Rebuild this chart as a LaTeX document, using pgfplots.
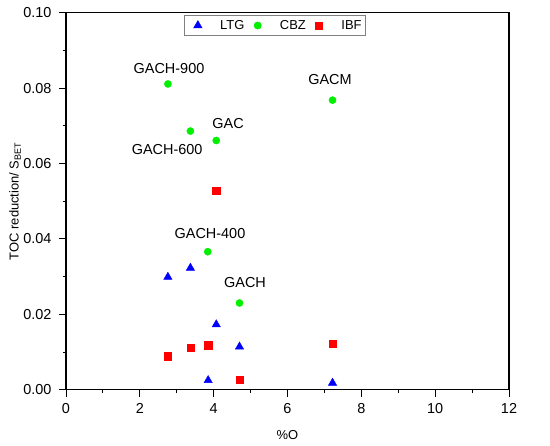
\documentclass[border=0pt]{standalone}
\usepackage{pgfplots}
\pgfplotsset{compat=1.18}
\usepackage{fontspec}
\setmainfont{Liberation Sans}
\definecolor{ltg}{RGB}{0,0,255}
\definecolor{cbz}{RGB}{0,240,0}
\definecolor{ibf}{RGB}{255,0,0}
\pgfplotsset{my marks/.style={only marks,
  legend image code/.code={\path (-11bp,0) (8bp,0); \draw[##1, only marks] plot coordinates {(0bp,0bp)};}}}
\begin{document}
\begin{tikzpicture}
\path[use as bounding box] (-66bp,-56.3bp) rectangle (484bp,389.7bp);
\begin{axis}[
  scale only axis,
  width=443bp, height=377bp,
  xmin=0, xmax=12, ymin=0, ymax=0.10,
  xtick={0,2,...,12},
  ytick={0,0.02,0.04,0.06,0.08,0.10},
  minor x tick num=1, minor y tick num=1,
  tick align=outside,
  xtick pos=left, ytick pos=left,
  major tick length=7bp, minor tick length=3.5bp,
  axis line style={line width=1.1pt},
  every tick/.style={black, line width=1pt},
  /pgf/number format/assume math mode=true,
  tick label style={font=\fontsize{14.5}{17}\selectfont},
  xticklabel style={yshift=-3bp},
  yticklabel style={xshift=-4bp, /pgf/number format/.cd, fixed, fixed zerofill, precision=2},
  scaled y ticks=false,
  xlabel={\%O},
  ylabel={TOC reduction/ S\textsubscript{BET}},
  label style={font=\fontsize{13}{15}\selectfont},
  xlabel style={at={(axis description cs:0.5,0)}, anchor=center, yshift=-45.3bp},
  ylabel style={at={(axis description cs:0,0.5)}, anchor=center, rotate=0, yshift=51bp},
  legend columns=-1,
  legend style={at={(rel axis cs:0.472,0.994)}, anchor=north,
    draw=gray, line width=0.6pt, font=\fontsize{13}{15}\selectfont,
    inner xsep=2bp, inner ysep=3bp,
    /tikz/every odd column/.append style={column sep=12bp},
    /tikz/every even column/.append style={column sep=0bp}},
]
\addplot[my marks, mark=triangle*, mark size=4.8pt, color=ltg, mark options={draw=ltg, fill=ltg}]
coordinates {(2.76,0.0299) (3.37,0.0323) (4.07,0.0173) (4.70,0.0114) (3.85,0.0025) (7.22,0.0018)};
\addlegendentry{LTG}
\addplot[my marks, mark=*, mark size=3.6pt, color=cbz, mark options={draw=cbz, fill=cbz}]
coordinates {(2.76,0.0811) (3.37,0.0686) (4.07,0.0661) (7.22,0.0768) (3.84,0.0366) (4.70,0.0230)};
\addlegendentry{CBZ}
\addplot[my marks, mark=square*, mark size=3.6pt, color=ibf, mark options={draw=ibf, fill=ibf}]
coordinates {(4.07,0.0528) (2.76,0.0089) (3.37,0.0112) (3.85,0.0118) (4.70,0.0027) (7.22,0.0123)};
\addlegendentry{IBF}
\node[font=\fontsize{14.5}{17}\selectfont] at (axis cs:2.79,0.0853) {GACH-900};
\node[font=\fontsize{14.5}{17}\selectfont] at (axis cs:7.15,0.0822) {GACM};
\node[font=\fontsize{14.5}{17}\selectfont] at (axis cs:4.39,0.0707) {GAC};
\node[font=\fontsize{14.5}{17}\selectfont] at (axis cs:2.74,0.0636) {GACH-600};
\node[font=\fontsize{14.5}{17}\selectfont] at (axis cs:3.90,0.0413) {GACH-400};
\node[font=\fontsize{14.5}{17}\selectfont] at (axis cs:4.85,0.0283) {GACH};
\end{axis}
\end{tikzpicture}
\end{document}
